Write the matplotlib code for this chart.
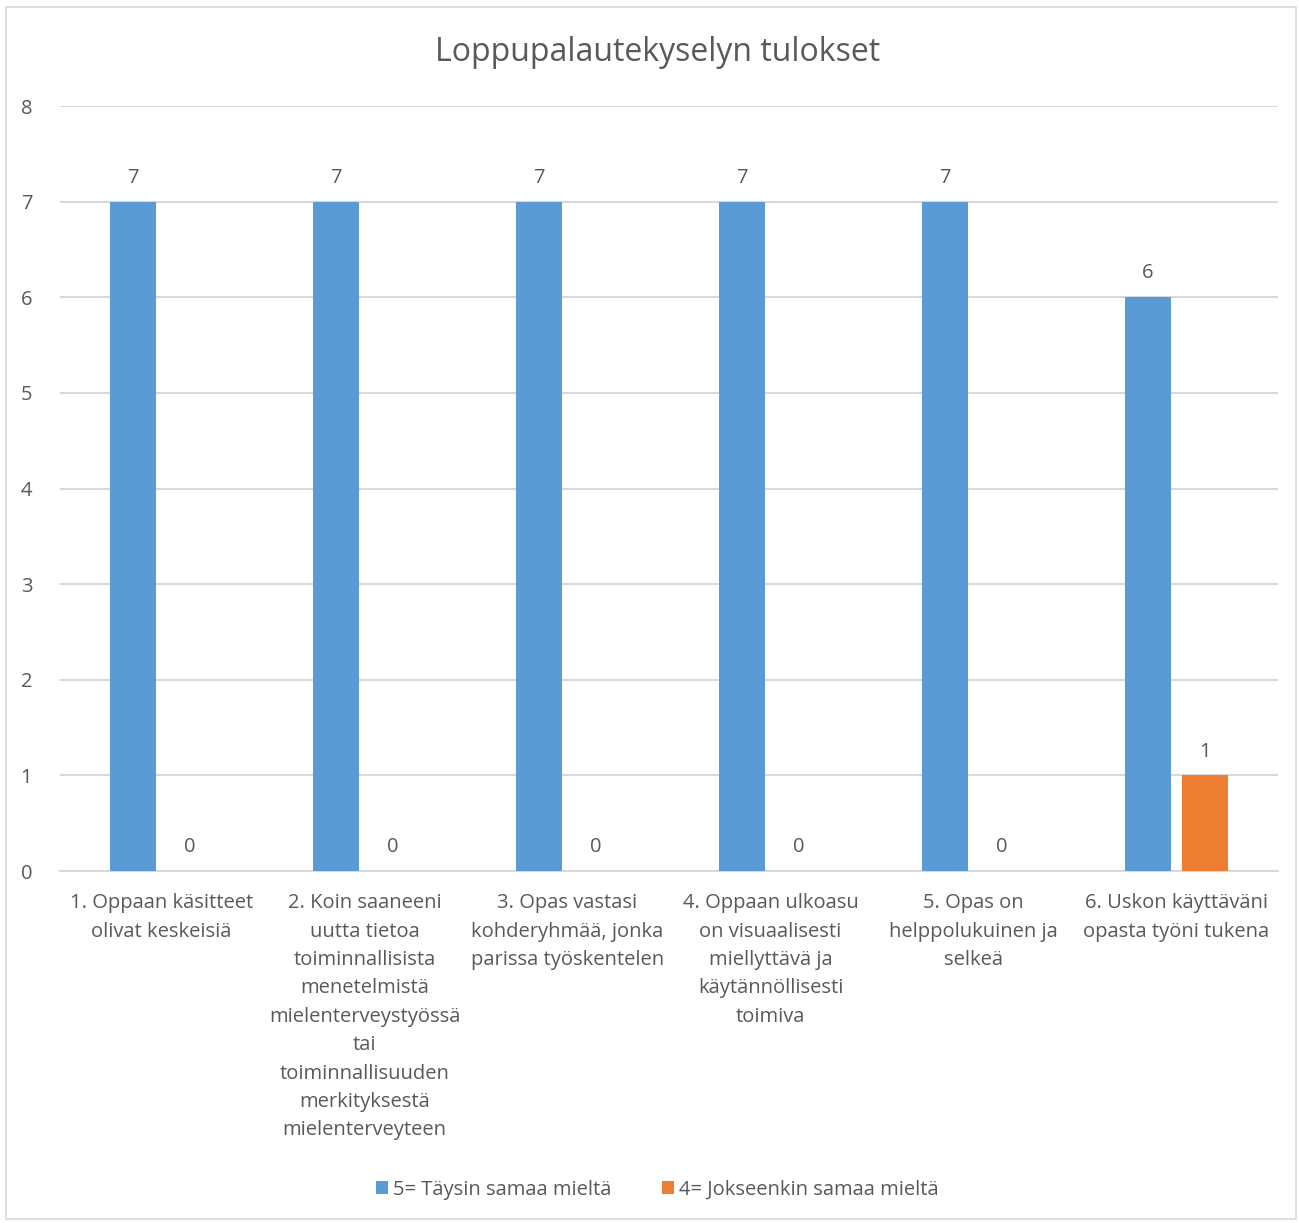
import numpy as np
import matplotlib.pyplot as plt
from matplotlib.patches import Rectangle

plt.rcParams['font.family'] = ['Open Sans', 'DejaVu Sans']

# Data
categories = [
    "1. Oppaan käsitteet\nolivat keskeisiä",
    "2. Koin saaneeni\nuutta tietoa\ntoiminnallisista\nmenetelmistä\nmielenterveystyössä\ntai\ntoiminnallisuuden\nmerkityksestä\nmielenterveyteen",
    "3. Opas vastasi\nkohderyhmää, jonka\nparissa työskentelen",
    "4. Oppaan ulkoasu\non visuaalisesti\nmiellyttävä ja\nkäytännöllisesti\ntoimiva",
    "5. Opas on\nhelppolukuinen ja\nselkeä",
    "6. Uskon käyttäväni\nopasta työni tukena",
]
series_names = ["5= Täysin samaa mieltä", "4= Jokseenkin samaa mieltä"]
fully_agree = [7, 7, 7, 7, 7, 6]
somewhat_agree = [0, 0, 0, 0, 0, 1]
y_ticks = [0, 1, 2, 3, 4, 5, 6, 7, 8]

BLUE = '#5b9bd5'
ORANGE = '#ed7d31'
TEXT = '#595959'
GRID = '#d9d9d9'

fig = plt.figure(figsize=(12.99, 12.23), dpi=100)
ax = fig.add_axes([0.0462, 0.2878, 0.9376, 0.6255])

# outer chart border
fig.patches.append(Rectangle((0.005, 0.003), 0.993, 0.991, transform=fig.transFigure,
                             fill=False, edgecolor=GRID, linewidth=1.2))

x = np.arange(len(categories))
w = 0.225
off = 0.141
b1 = ax.bar(x - off, fully_agree, w, color=BLUE, label=series_names[0], zorder=3)
b2 = ax.bar(x + off, somewhat_agree, w, color=ORANGE, label=series_names[1], zorder=3)

for bars in (b1, b2):
    ax.bar_label(bars, padding=10, fontsize=14.5, color=TEXT)

ax.set_xlim(-0.5, len(categories) - 0.5)
ax.set_ylim(0, 8)
ax.set_yticks(y_ticks)
ax.set_xticks(x)
ax.set_xticklabels(categories, fontsize=14.5, color=TEXT, linespacing=1.56, va='top')
ax.tick_params(axis='y', labelsize=14.5, labelcolor=TEXT, length=0, pad=20)
ax.tick_params(axis='x', length=0, pad=16)
ax.grid(axis='y', color=GRID, linewidth=1.5, zorder=0)
for s in ['top', 'right', 'left']:
    ax.spines[s].set_visible(False)
ax.spines['bottom'].set_color(GRID)
ax.spines['bottom'].set_linewidth(1.5)

fig.text(0.506, 0.957, "Loppupalautekyselyn tulokset", ha='center', va='center',
         fontsize=23, color=TEXT)

fig.legend(handles=[b1, b2], labels=series_names, loc='center', bbox_to_anchor=(0.506, 0.027),
           ncol=2, frameon=False, fontsize=14.5, labelcolor=TEXT, handlelength=0.6,
           handleheight=0.6, handletextpad=0.25, columnspacing=2.5)

plt.savefig('out.png', dpi=100)
